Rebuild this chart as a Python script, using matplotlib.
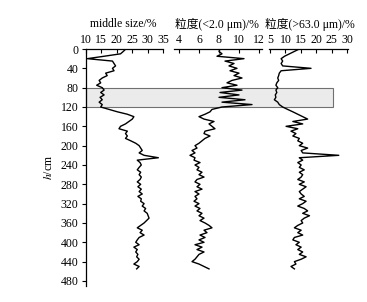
import numpy as np
import matplotlib.pyplot as plt
from matplotlib.patches import Rectangle
from matplotlib.transforms import blended_transform_factory

plt.rcParams['font.family'] = ['Liberation Serif', 'Noto Sans CJK SC']
plt.rcParams['mathtext.fontset'] = 'stix'

# depth (cm), 5 cm steps
depth = np.arange(0, 460, 5)

middle_size = [23.0, 22.2, 21.3, 16.0, 10.6, 18.7, 19.2, 19.7, 18.7, 19.2,
               16.5, 17.0, 15.4, 14.4, 14.9, 13.6, 15.4, 16.0, 14.9, 16.0,
               14.7, 15.4, 14.4, 15.4, 14.9, 17.6, 20.3, 23.5, 25.6, 25.1,
               24.0, 22.9, 21.3, 20.8, 23.5, 22.9, 23.5, 22.9, 24.6, 26.2,
               27.3, 27.8, 28.3, 27.3, 28.9, 33.5, 26.7, 27.6, 28.0, 27.3,
               26.7, 27.8, 27.3, 28.0, 27.6, 26.7, 27.8, 26.9, 28.0, 27.3,
               28.3, 26.9, 28.0, 27.8, 28.9, 28.3, 29.4, 28.9, 29.9, 30.2,
               30.5, 29.7, 28.9, 27.8, 26.7, 28.3, 27.6, 28.9, 27.3, 26.7,
               26.2, 27.3, 25.6, 26.7, 26.2, 26.9, 26.5, 27.3, 26.7, 25.6,
               27.3, 26.5]

clay = [8.1, 8.0, 8.3, 7.8, 10.5, 8.6, 9.5, 9.0, 9.8, 9.1,
        10.0, 9.5, 10.3, 9.3, 8.8, 9.8, 8.3, 10.3, 8.1, 10.0,
        8.0, 10.6, 8.3, 11.3, 8.3, 7.3, 7.1, 6.6, 6.0, 6.5,
        7.5, 7.0, 7.3, 7.6, 6.6, 6.5, 7.1, 6.6, 6.3, 6.0,
        5.6, 5.8, 5.3, 5.6, 5.1, 5.6, 5.5, 6.1, 5.6, 6.0,
        5.8, 6.3, 6.0, 6.5, 5.8, 5.6, 6.1, 5.8, 6.3, 5.6,
        6.0, 5.6, 5.8, 5.5, 6.0, 5.6, 6.1, 5.8, 6.3, 6.0,
        6.5, 6.1, 6.6, 7.0, 7.3, 6.5, 6.8, 6.1, 6.6, 6.0,
        6.5, 5.6, 6.3, 5.8, 6.5, 6.0, 5.8, 5.6, 5.3, 6.0,
        6.5, 7.0]

sand = [14.5, 12.9, 11.3, 9.7, 8.6, 9.1, 8.6, 9.1, 18.3, 8.6,
        8.0, 7.8, 7.5, 7.8, 7.2, 6.9, 7.5, 6.9, 7.2, 6.7,
        6.9, 6.4, 7.5, 8.0, 9.1, 10.7, 12.4, 14.0, 15.6, 17.2,
        12.4, 15.6, 10.2, 14.0, 11.8, 13.4, 12.4, 14.5, 14.0, 15.6,
        14.5, 17.2, 15.1, 15.6, 27.3, 14.5, 15.6, 14.0, 15.1, 14.5,
        16.1, 14.5, 15.6, 15.1, 14.0, 16.1, 14.5, 16.7, 15.6, 14.5,
        15.1, 16.1, 14.5, 16.7, 15.6, 14.0, 16.1, 17.2, 15.6, 17.8,
        16.1, 15.1, 15.6, 14.0, 12.9, 15.1, 14.0, 15.6, 12.9, 12.4,
        14.5, 13.4, 15.1, 14.0, 15.6, 14.5, 16.7, 15.1, 12.9, 13.4,
        11.8, 12.9]

titles = ["middle size/%", "粒度(<2.0 μm)/%", "粒度(>63.0 μm)/%"]
xticks = [[10, 15, 20, 25, 30, 35], [4, 6, 8, 10, 12], [5, 10, 15, 20, 25, 30]]
xlims = [(10, 35), (3.5, 12.3), (4.5, 30.3)]
series = [middle_size, clay, sand]
yticks = list(range(0, 481, 40))
band = (80, 120)

W, H = 367, 302
fig = plt.figure(figsize=(W / 100, H / 100), dpi=100)

# axes boxes in pixels: left, width
boxes = [(85.5, 77.5), (174, 88), (268.5, 79.5)]
title_x = [123, 217, 310]
top_px, bot_px = 49, 285.8

axes = []
for i, (l, w) in enumerate(boxes):
    ax = fig.add_axes([l / W, 1 - bot_px / H, w / W, (bot_px - top_px) / H])
    ax.patch.set_alpha(0)
    ax.plot(series[i], depth, color="black", lw=1.0, zorder=3)
    ax.set_xlim(*xlims[i])
    ax.set_ylim(490, 0)
    ax.xaxis.tick_top()
    ax.set_xticks(xticks[i])
    ax.tick_params(axis="x", direction="in", length=3, width=0.8, pad=2,
                   labelsize=8.5)
    for s in ["right", "bottom"]:
        ax.spines[s].set_visible(False)
    ax.spines["top"].set_linewidth(0.9)
    if i == 0:
        ax.set_yticks(yticks)
        ax.tick_params(axis="y", direction="out", length=3, width=0.8, pad=2,
                       labelsize=8.5)
        ax.spines["left"].set_linewidth(0.9)
        ax.set_ylabel("$h$/cm", fontsize=8.5, labelpad=4)
    else:
        ax.spines["left"].set_visible(False)
        ax.set_yticks([])
    fig.text(title_x[i] / W, 1 - 24 / H, titles[i], ha="center",
             va="center", fontsize=8.5)
    axes.append(ax)

# shaded band across all three panels
tr = blended_transform_factory(fig.transFigure, axes[0].transData)
rect = Rectangle((86 / W, band[0]), (333 - 86) / W, band[1] - band[0],
                 transform=tr, facecolor="#ebebeb", edgecolor="#707070",
                 lw=0.8, zorder=1, clip_on=False)
axes[0].add_patch(rect)

fig.savefig("out.png", dpi=100)
